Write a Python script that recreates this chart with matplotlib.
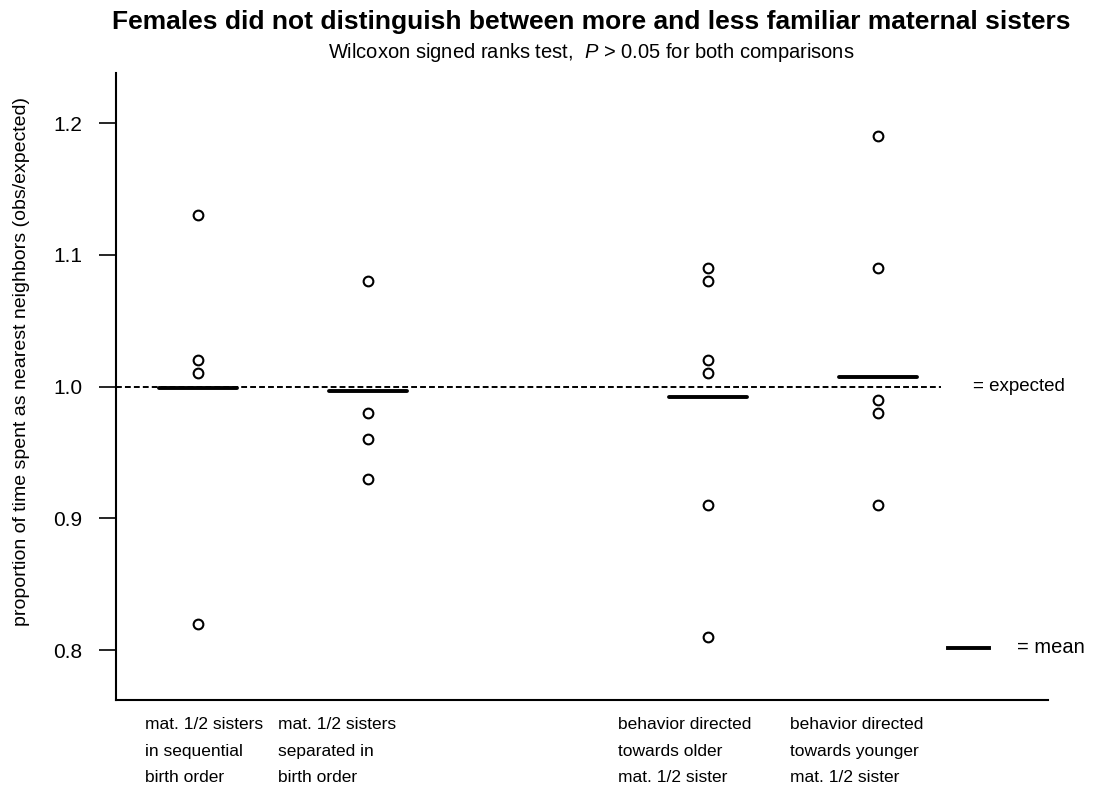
import matplotlib
matplotlib.use("Agg")
import matplotlib.pyplot as plt

plt.rcParams["font.family"] = ["Liberation Sans", "DejaVu Sans"]
plt.rcParams["mathtext.fontset"] = "custom"
plt.rcParams["mathtext.it"] = "Liberation Sans:italic"
plt.rcParams["mathtext.rm"] = "Liberation Sans"

# group positions (gap between the two comparisons)
positions = [1, 2, 4, 5]
group_labels = [
    "mat. 1/2 sisters\nin sequential\nbirth order",
    "mat. 1/2 sisters\nseparated in\nbirth order",
    "behavior directed\ntowards older\nmat. 1/2 sister",
    "behavior directed\ntowards younger\nmat. 1/2 sister",
]

# obs/expected ratios per female
sequential = [1.13, 1.02, 1.01, 0.82]
separated = [1.08, 0.98, 0.96, 0.93]
to_older = [1.09, 1.08, 1.02, 1.01, 0.91, 0.81]
to_younger = [1.19, 1.09, 0.99, 0.98, 0.91]
groups = [sequential, separated, to_older, to_younger]

group_means = [0.999, 0.997, 0.992, 1.007]
expected = 1.0
yticks = [0.8, 0.9, 1.0, 1.1, 1.2]

# where each group's caption starts, relative to its column
label_shift = [-0.31, -0.53, -0.53, -0.52]

fig = plt.figure(figsize=(11.15, 7.93), dpi=100)
ax = fig.add_axes([0.104, 0.117, 0.836, 0.791])

# expected line
ax.plot([0.518, 5.37], [expected, expected], ls=(0, (3, 1.6)), color="black", lw=1.4)

for x, vals, m in zip(positions, groups, group_means):
    ax.plot([x] * len(vals), vals, "o", ms=7, mfc="white", mec="black", mew=1.5)
    ax.plot([x - 0.23, x + 0.23], [m, m], color="black", lw=2.8, solid_capstyle="round")

# key
ax.text(5.56, expected, "= expected", fontsize=13.5, va="center", ha="left")
ax.plot([5.41, 5.65], [0.802, 0.802], color="black", lw=2.8, clip_on=False)
ax.text(5.82, 0.802, "= mean", fontsize=14.5, va="center", ha="left")

ax.set_xlim(0.518, 6.0)
ax.set_ylim(0.762, 1.238)
ax.set_yticks(yticks)
ax.set_yticklabels([f"{t:.1f}" for t in yticks])
ax.tick_params(axis="y", length=12, width=1.2, pad=12, labelsize=15)
ax.set_xticks([])
for s in ["top", "right"]:
    ax.spines[s].set_visible(False)
for s in ["left", "bottom"]:
    ax.spines[s].set_linewidth(1.5)

for x, dx, lab in zip(positions, label_shift, group_labels):
    ax.text(x + dx, 0.749, lab, fontsize=12.5, ha="left", va="top", linespacing=1.93)

ax.set_ylabel("proportion of time spent as nearest neighbors (obs/expected)", fontsize=14)
ax.yaxis.set_label_coords(-0.092, 0.54)

fig.text(0.53, 0.972, "Females did not distinguish between more and less familiar maternal sisters",
         ha="center", va="center", fontsize=19, fontweight="bold")
fig.text(0.53, 0.934, r"Wilcoxon signed ranks test,  $\mathit{P}$ > 0.05 for both comparisons",
         ha="center", va="center", fontsize=14.5)

fig.savefig("out.png", dpi=100)
